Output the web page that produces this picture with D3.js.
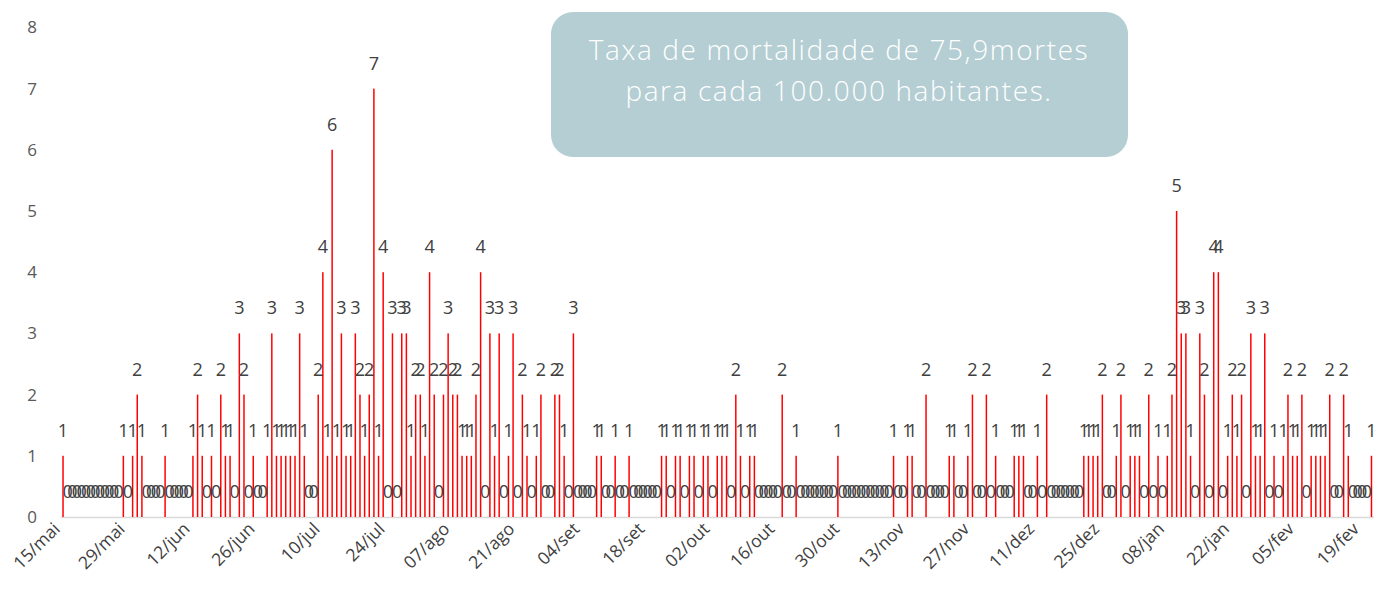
<!DOCTYPE html>
<html><head><meta charset="utf-8">
<script src="https://cdn.jsdelivr.net/npm/d3@7"></script>
<style>body{margin:0;background:#fff}svg{display:block}</style>
</head><body><svg id="c" width="1378" height="596"></svg>
<script>
// Daily deaths, starting 15/mai (283 days)
const startLabel = "15/mai";
const values = [
1,0,0,0,0,0,0,0,0,0,0,0,0,1,0,1,2,1,0,0,
0,0,1,0,0,0,0,0,1,2,1,0,1,0,2,1,1,0,3,2,
0,1,0,0,1,3,1,1,1,1,1,3,1,0,0,2,4,1,6,1,
3,1,1,3,2,1,2,7,1,4,0,3,0,3,3,1,2,2,1,4,
2,0,2,3,2,2,1,1,1,2,4,0,3,1,3,0,1,3,0,2,
1,0,1,2,0,0,2,2,1,0,3,0,0,0,0,1,1,0,0,1,
0,0,1,0,0,0,0,0,0,1,1,0,1,1,0,1,1,0,1,1,
0,1,1,1,0,2,1,0,1,1,0,0,0,0,0,2,0,0,1,0,
0,0,0,0,0,0,0,1,0,0,0,0,0,0,0,0,0,0,0,1,
0,0,1,1,0,0,2,0,0,0,0,1,1,0,0,1,2,0,0,2,
0,1,0,0,0,1,1,1,0,0,1,0,2,0,0,0,0,0,0,0,
1,1,1,1,2,0,0,1,2,0,1,1,1,0,2,0,1,0,1,2,
5,3,3,1,0,3,2,0,4,4,0,1,2,1,2,0,3,1,1,3,
0,1,0,1,2,1,1,2,0,1,1,1,1,2,0,0,2,1,0,0,
0,0,1
];
const tickLabels = ["15/mai","29/mai","12/jun","26/jun","10/jul","24/jul","07/ago","21/ago","04/set","18/set","02/out","16/out","30/out","13/nov","27/nov","11/dez","25/dez","08/jan","22/jan","05/fev","19/fev"];
const tickEvery = 14;
const yTicks = [0,1,2,3,4,5,6,7,8];
const noteLines = ["Taxa de mortalidade de 75,9mortes","para cada 100.000 habitantes."];

const svg = d3.select("#c");
const font = "'Open Sans', 'Liberation Sans', sans-serif";
const idx = d3.range(values.length);
const x = d3.scaleBand().domain(idx).range([60.7, 1373.8]).paddingInner(0.68).paddingOuter(0.34);
const y = d3.scaleLinear().domain([0, 8]).range([517, 27.4]);
const cx = i => x(i) + x.bandwidth() / 2;

// y tick labels
svg.append("g").selectAll("text").data(yTicks).join("text")
  .attr("x", 32).attr("y", d => y(d)).attr("dy", "0.35em")
  .attr("text-anchor", "middle").attr("font-family", font).attr("font-size", 17)
  .attr("fill", "#595959").text(d => d);

// baseline
svg.append("line").attr("x1", 60.7).attr("x2", 1373.8).attr("y1", y(0) + 0.5).attr("y2", y(0) + 0.5)
  .attr("stroke", "#d9d9d9").attr("stroke-width", 1.5);

// bars
svg.append("g").selectAll("rect").data(idx.filter(i => values[i] > 0)).join("rect")
  .attr("x", i => x(i)).attr("width", x.bandwidth())
  .attr("y", i => y(values[i])).attr("height", i => y(0) - y(values[i]))
  .attr("fill", "#ff0000");

// data labels
svg.append("g").selectAll("text").data(idx).join("text")
  .attr("x", i => cx(i)).attr("y", i => y(values[i]) - 19)
  .attr("text-anchor", "middle").attr("font-family", font).attr("font-size", 18)
  .attr("fill", "#404040").text(i => values[i]);

// x tick labels
svg.append("g").selectAll("text").data(tickLabels).join("text")
  .attr("transform", (d, k) => `translate(${cx(k * tickEvery) - 2},${y(0) + 13}) rotate(-45)`)
  .attr("text-anchor", "end").attr("font-family", font).attr("font-size", 17.5)
  .attr("fill", "#404040").text(d => d);

// note box
const note = svg.append("g");
note.append("rect").attr("x", 551).attr("y", 12).attr("width", 577).attr("height", 145)
  .attr("rx", 22).attr("fill", "#b4ced3");
note.selectAll("text").data(noteLines).join("text")
  .attr("x", 839).attr("y", (d, k) => 60 + k * 41)
  .attr("text-anchor", "middle").attr("font-family", font).attr("font-weight", 300)
  .attr("font-size", 28).attr("letter-spacing", 1.6).attr("fill", "#ffffff").text(d => d);
</script></body></html>
